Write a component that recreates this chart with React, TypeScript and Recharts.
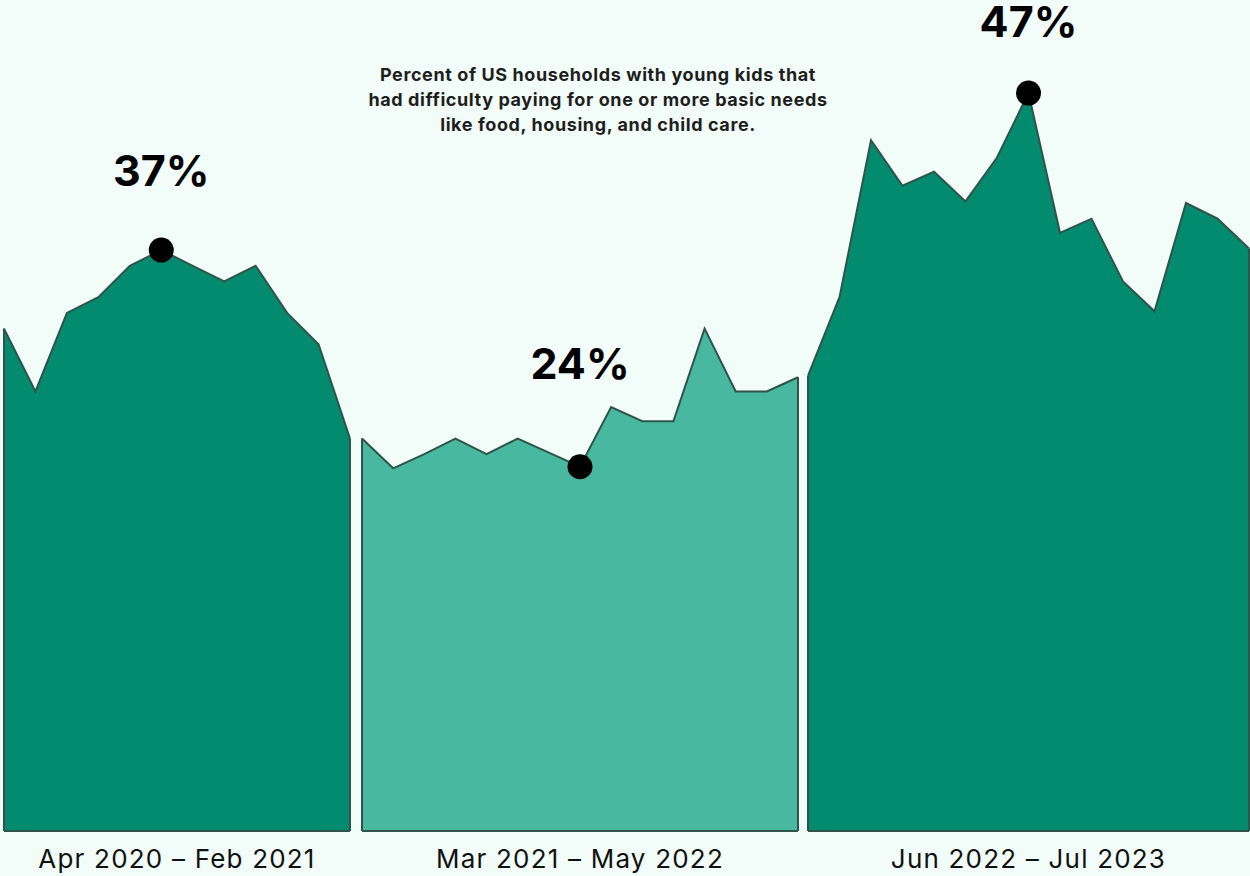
import { AreaChart, Area, XAxis, YAxis, ReferenceDot, ReferenceLine } from 'recharts';

// share of households (%) per survey wave
const period1Values = [32, 28, 33, 34, 36, 37, 36, 35, 36, 33, 31, 25];
const period2Values = [25, 23.1, 24, 25, 24, 25, 24.1, 23.2, 27, 26.1, 26.1, 32, 28, 28, 28.9];
const period3Values = [29, 34, 44, 41.1, 42, 40.1, 42.9, 47, 38.1, 39, 35, 33.1, 40, 39, 37.1];

const periodLabels = ['Apr 2020 – Feb 2021', 'Mar 2021 – May 2022', 'Jun 2022 – Jul 2023'];
const highlightIndex = [5, 7, 7];
const highlightLabels = ['37%', '24%', '47%'];

const titleLines = [
    'Percent of US households with young kids that',
    'had difficulty paying for one or more basic needs',
    'like food, housing, and child care.',
];

const BG = '#f2fcf8';
const DARK = '#038b6f';
const LIGHT = '#48b8a0';
const EDGE = '#2f5449';
const FONT = 'Inter, "Noto Sans", sans-serif';

const panels = [
    { values: period1Values, left: 3, width: 348, fill: DARK, labelOffset: 52 },
    { values: period2Values, left: 361, width: 438, fill: LIGHT, labelOffset: 75 },
    { values: period3Values, left: 807, width: 443, fill: DARK, labelOffset: 44 },
];

interface PanelProps {
    values: number[];
    width: number;
    fill: string;
    hi: number;
    hiLabel: string;
    labelOffset: number;
}

function Panel({ values, width, fill, hi, hiLabel, labelOffset }: PanelProps) {
    const data = values.map((v, i) => ({ i, v }));
    const last = values.length - 1;
    return (
        <AreaChart width={width} height={876} data={data} margin={{ top: 46, right: 1, bottom: 45, left: 1 }}>
            <XAxis dataKey="i" hide />
            <YAxis domain={[0, 50]} hide />
            <Area type="linear" dataKey="v" stroke={EDGE} strokeWidth={2} fill={fill} fillOpacity={1}
                dot={false} activeDot={false} isAnimationActive={false} />
            <ReferenceLine segment={[{ x: 0, y: 0 }, { x: last, y: 0 }]} stroke={EDGE} strokeWidth={2} />
            <ReferenceLine segment={[{ x: 0, y: 0 }, { x: 0, y: values[0] }]} stroke={EDGE} strokeWidth={2} />
            <ReferenceLine segment={[{ x: last, y: 0 }, { x: last, y: values[last] }]} stroke={EDGE} strokeWidth={2} />
            <ReferenceDot x={hi} y={values[hi]} r={12.5} fill="#000" stroke="none"
                label={{ value: hiLabel, position: 'top', offset: labelOffset, fill: '#000', fontSize: 43, fontWeight: 700, fontFamily: FONT }} />
        </AreaChart>
    );
}

export default function App() {
    return (
        <div style={{ position: 'absolute', left: 0, top: 0, width: 1250, height: 876, background: BG, fontFamily: FONT, overflow: 'hidden' }}>
            {panels.map((p, k) => (
                <div key={k} style={{ position: 'absolute', left: p.left, top: 0 }}>
                    <Panel values={p.values} width={p.width} fill={p.fill} hi={highlightIndex[k]}
                        hiLabel={highlightLabels[k]} labelOffset={p.labelOffset} />
                </div>
            ))}
            <div style={{ position: 'absolute', left: 348, top: 62, width: 500, textAlign: 'center', fontSize: 18, fontWeight: 700, letterSpacing: 0.6, lineHeight: '25px', color: '#1e1e1e' }}>
                {titleLines.map((t, i) => <div key={i}>{t}</div>)}
            </div>
            {panels.map((p, k) => (
                <div key={k} style={{ position: 'absolute', left: p.left + 1, top: 843, width: p.width - 2, textAlign: 'center', fontSize: 26, letterSpacing: 1.2, color: '#111', lineHeight: '32px' }}>
                    {periodLabels[k]}
                </div>
            ))}
        </div>
    );
}
